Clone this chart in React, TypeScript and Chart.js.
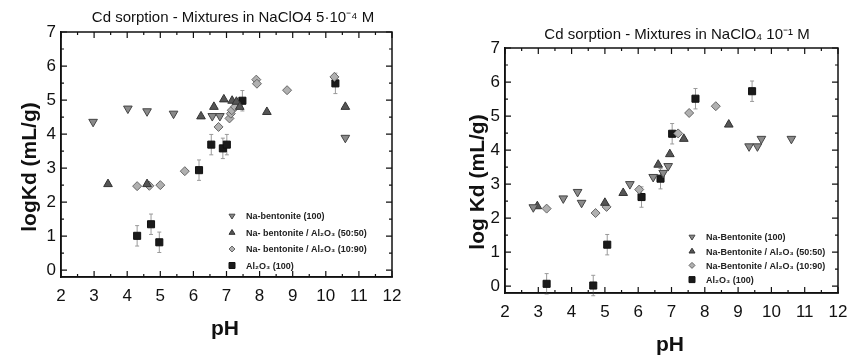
import React, { useEffect, useRef } from "react";
import { Chart, registerables } from "chart.js";
Chart.register(...registerables);

// ---------- shared ticks ----------
const X_TICKS = [2, 3, 4, 5, 6, 7, 8, 9, 10, 11, 12];
const Y_TICKS = [0, 1, 2, 3, 4, 5, 6, 7];

// ---------- left panel (NaClO4 5·10^-4 M) ----------
const L_TITLE = "Cd sorption - Mixtures in NaClO4 5·10⁻⁴ M";
const L_YTITLE = "logKd (mL/g)";
const L_LABELS = [
  "Na-bentonite (100)",
  "Na- bentonite / Al₂O₃ (50:50)",
  "Na- bentonite / Al₂O₃ (10:90)",
  "Al₂O₃ (100)",
];
const L_BENT_X = [2.97, 4.02, 4.6, 5.4, 6.57, 6.8, 10.59];
const L_BENT_Y = [4.36, 4.75, 4.67, 4.6, 4.53, 4.53, 3.89];
const L_5050_X = [3.42, 4.6, 6.23, 6.62, 6.92, 7.17, 7.3, 7.4, 8.22, 10.59];
const L_5050_Y = [2.53, 2.53, 4.52, 4.8, 5.02, 4.98, 4.95, 4.8, 4.65, 4.8];
const L_1090_X = [4.3, 4.67, 5.0, 5.74, 6.76, 7.09, 7.13, 7.16, 7.26, 7.9, 7.92, 8.83, 10.26];
const L_1090_Y = [2.47, 2.48, 2.5, 2.91, 4.21, 4.46, 4.6, 4.7, 4.8, 5.6, 5.48, 5.29, 5.68];
const L_AL_X = [4.3, 4.72, 4.97, 6.17, 6.54, 6.89, 7.01, 7.48, 10.29];
const L_AL_Y = [1.01, 1.35, 0.82, 2.94, 3.69, 3.58, 3.69, 4.98, 5.49];
const L_AL_ERR = [0.3, 0.3, 0.3, 0.3, 0.3, 0.3, 0.3, 0.3, 0.3];

// ---------- right panel (NaClO4 10^-1 M) ----------
const R_TITLE = "Cd sorption - Mixtures in NaClO₄ 10⁻¹ M";
const R_YTITLE = "log Kd (mL/g)";
const R_LABELS = [
  "Na-Bentonite (100)",
  "Na-Bentonite / Al₂O₃ (50:50)",
  "Na-Bentonite / Al₂O₃ (10:90)",
  "Al₂O₃ (100)",
];
const R_BENT_X = [2.85, 3.75, 4.18, 4.3, 5.75, 6.45, 6.75, 6.9, 9.33, 9.58, 9.7, 10.6];
const R_BENT_Y = [2.32, 2.58, 2.77, 2.45, 3.0, 3.21, 3.33, 3.53, 4.11, 4.11, 4.33, 4.33];
const R_5050_X = [2.97, 5.0, 5.55, 6.6, 6.95, 7.37, 8.72];
const R_5050_Y = [2.35, 2.45, 2.74, 3.57, 3.88, 4.33, 4.75];
const R_1090_X = [3.25, 4.72, 5.05, 6.03, 7.2, 7.53, 8.33];
const R_1090_Y = [2.28, 2.15, 2.33, 2.84, 4.49, 5.09, 5.29];
const R_AL_X = [3.25, 4.65, 5.07, 6.1, 6.67, 7.02, 7.72, 9.42];
const R_AL_Y = [0.07, 0.02, 1.22, 2.62, 3.16, 4.48, 5.51, 5.73];
const R_AL_ERR = [0.3, 0.3, 0.3, 0.3, 0.3, 0.3, 0.3, 0.3];

const FONT = "'Liberation Sans', Arial, sans-serif";

const zip = (xs: number[], ys: number[]) => xs.map((x, i) => ({ x, y: ys[i] }));

function drawMarker(ctx: CanvasRenderingContext2D, kind: string, x: number, y: number, r: number) {
  ctx.beginPath();
  if (kind === "down") {
    ctx.moveTo(x - r, y - r * 0.6);
    ctx.lineTo(x + r, y - r * 0.6);
    ctx.lineTo(x, y + r);
    ctx.closePath();
    ctx.fillStyle = "#8a8a8a";
    ctx.strokeStyle = "#444";
  } else if (kind === "up") {
    ctx.moveTo(x - r, y + r * 0.6);
    ctx.lineTo(x + r, y + r * 0.6);
    ctx.lineTo(x, y - r);
    ctx.closePath();
    ctx.fillStyle = "#555";
    ctx.strokeStyle = "#333";
  } else if (kind === "diamond") {
    ctx.moveTo(x, y - r);
    ctx.lineTo(x + r, y);
    ctx.lineTo(x, y + r);
    ctx.lineTo(x - r, y);
    ctx.closePath();
    ctx.fillStyle = "#b0b0b0";
    ctx.strokeStyle = "#666";
  } else {
    ctx.rect(x - r, y - r, 2 * r, 2 * r);
    ctx.fillStyle = "#1a1a1a";
    ctx.strokeStyle = "#111";
  }
  ctx.lineWidth = 1;
  ctx.fill();
  ctx.stroke();
}

const decorPlugin = {
  id: "decor",
  beforeDatasetsDraw(chart: any) {
    const o = chart.options.plugins.decor;
    const ctx = chart.ctx as CanvasRenderingContext2D;
    const xs = chart.scales.x;
    const ys = chart.scales.y;
    ctx.save();
    ctx.strokeStyle = "#9a9a9a";
    ctx.lineWidth = 1;
    o.errX.forEach((x: number, i: number) => {
      const px = xs.getPixelForValue(x);
      const y0 = ys.getPixelForValue(o.errY[i] - o.err[i]);
      const y1 = ys.getPixelForValue(o.errY[i] + o.err[i]);
      ctx.beginPath();
      ctx.moveTo(px, y0);
      ctx.lineTo(px, y1);
      ctx.moveTo(px - 2, y0);
      ctx.lineTo(px + 2, y0);
      ctx.moveTo(px - 2, y1);
      ctx.lineTo(px + 2, y1);
      ctx.stroke();
    });
    ctx.restore();
  },
  afterDraw(chart: any) {
    const o = chart.options.plugins.decor;
    const ctx = chart.ctx as CanvasRenderingContext2D;
    const a = chart.chartArea;
    const xs = chart.scales.x;
    const ys = chart.scales.y;
    ctx.save();
    ctx.strokeStyle = "#111";
    ctx.lineWidth = 1.5;
    ctx.strokeRect(a.left, a.top, a.right - a.left, a.bottom - a.top);
    ctx.lineWidth = 1.2;
    ctx.beginPath();
    for (let v = X_TICKS[0]; v <= X_TICKS[X_TICKS.length - 1] + 1e-9; v += 0.5) {
      const px = xs.getPixelForValue(v);
      const len = Number.isInteger(v) ? 6 : 3;
      ctx.moveTo(px, a.bottom);
      ctx.lineTo(px, a.bottom - len);
      ctx.moveTo(px, a.top);
      ctx.lineTo(px, a.top + len);
    }
    for (let v = 0; v <= 7 + 1e-9; v += 0.5) {
      const py = ys.getPixelForValue(v);
      const len = Number.isInteger(v) ? 6 : 3;
      ctx.moveTo(a.left, py);
      ctx.lineTo(a.left + len, py);
      ctx.moveTo(a.right, py);
      ctx.lineTo(a.right - len, py);
    }
    ctx.stroke();

    ctx.fillStyle = "#111";
    ctx.textAlign = "center";
    ctx.textBaseline = "middle";
    ctx.font = `15px ${FONT}`;
    ctx.fillText(o.title, o.titleX, o.titleY);
    ctx.font = `bold 21px ${FONT}`;
    ctx.fillText("pH", o.pHX, o.pHY);
    ctx.save();
    ctx.translate(o.yTitleX, o.yTitleY);
    ctx.rotate(-Math.PI / 2);
    ctx.fillText(o.yTitle, 0, 0);
    ctx.restore();

    // legend inside plot
    const kinds = ["down", "up", "diamond", "square"];
    ctx.textAlign = "left";
    ctx.font = `bold 9px ${FONT}`;
    o.labels.forEach((lab: string, i: number) => {
      const y = o.legY + i * o.legGap;
      drawMarker(ctx, kinds[i], o.legX, y, 3);
      ctx.fillStyle = "#222";
      ctx.fillText(lab, o.legX + 14, y + 1);
    });
    ctx.restore();
  },
};

type PanelProps = {
  series: { x: number[]; y: number[] }[];
  dec: any;
  yWidth: number;
  xHeight: number;
  padTop: number;
  padRight: number;
};

function Panel({ series, dec, yWidth, xHeight, padTop, padRight }: PanelProps) {
  const ref = useRef<HTMLCanvasElement>(null);
  useEffect(() => {
    const styles = [
      { pointStyle: "triangle", rotation: 180, bg: "#8a8a8a", bc: "#444", r: 5 },
      { pointStyle: "triangle", rotation: 0, bg: "#555", bc: "#333", r: 5 },
      { pointStyle: "rectRot", rotation: 0, bg: "#b0b0b0", bc: "#666", r: 4.5 },
      { pointStyle: "rect", rotation: 0, bg: "#1a1a1a", bc: "#111", r: 5 },
    ];
    const chart = new Chart(ref.current as HTMLCanvasElement, {
      type: "scatter",
      data: {
        datasets: series.map((s, i) => ({
          label: dec.labels[i],
          data: zip(s.x, s.y),
          pointStyle: styles[i].pointStyle as any,
          rotation: styles[i].rotation,
          backgroundColor: styles[i].bg,
          borderColor: styles[i].bc,
          borderWidth: 1,
          pointRadius: styles[i].r,
        })),
      },
      options: {
        animation: false,
        responsive: false,
        layout: { padding: { top: padTop, right: padRight, left: 0, bottom: 0 } },
        plugins: {
          legend: { display: false },
          tooltip: { enabled: false },
          decor: dec,
        } as any,
        scales: {
          x: {
            type: "linear",
            min: 2,
            max: 12,
            afterBuildTicks: (s: any) => {
              s.ticks = X_TICKS.map((v) => ({ value: v }));
            },
            afterFit: (s: any) => {
              s.height = xHeight;
            },
            grid: { display: false, drawTicks: false },
            border: { display: true, color: "#111", width: 1.5 },
            ticks: { font: { size: 17, family: FONT }, color: "#111", padding: 9 },
          },
          y: {
            type: "linear",
            min: -0.2,
            max: 7,
            afterBuildTicks: (s: any) => {
              s.ticks = Y_TICKS.map((v) => ({ value: v }));
            },
            afterFit: (s: any) => {
              s.width = yWidth;
            },
            grid: { display: false, drawTicks: false },
            border: { display: true, color: "#111", width: 1.5 },
            ticks: { font: { size: 17, family: FONT }, color: "#111", padding: 5 },
          },
        },
      },
      plugins: [decorPlugin],
    });
    return () => chart.destroy();
  }, []);
  return <canvas ref={ref} width={430} height={357} style={{ display: "block" }} />;
}

export default function App() {
  const left = [
    { x: L_BENT_X, y: L_BENT_Y },
    { x: L_5050_X, y: L_5050_Y },
    { x: L_1090_X, y: L_1090_Y },
    { x: L_AL_X, y: L_AL_Y },
  ];
  const right = [
    { x: R_BENT_X, y: R_BENT_Y },
    { x: R_5050_X, y: R_5050_Y },
    { x: R_1090_X, y: R_1090_Y },
    { x: R_AL_X, y: R_AL_Y },
  ];
  const lDec = {
    title: L_TITLE, titleX: 233, titleY: 18,
    yTitle: L_YTITLE, yTitleX: 30, yTitleY: 167,
    pHX: 225, pHY: 329,
    labels: L_LABELS, legX: 232, legY: 216, legGap: 16.5,
    errX: L_AL_X, errY: L_AL_Y, err: L_AL_ERR,
  };
  const rDec = {
    title: R_TITLE, titleX: 247, titleY: 35,
    yTitle: R_YTITLE, yTitleX: 48, yTitleY: 182,
    pHX: 240, pHY: 345,
    labels: R_LABELS, legX: 262, legY: 237, legGap: 14.2,
    errX: R_AL_X, errY: R_AL_Y, err: R_AL_ERR,
  };
  return (
    <div style={{ position: "absolute", left: 0, top: 0, width: 860, height: 357, display: "flex", background: "#fff" }}>
      <Panel series={left} dec={lDec} yWidth={61} xHeight={80} padTop={32} padRight={38} />
      <Panel series={right} dec={rDec} yWidth={75} xHeight={64} padTop={48} padRight={22} />
    </div>
  );
}
